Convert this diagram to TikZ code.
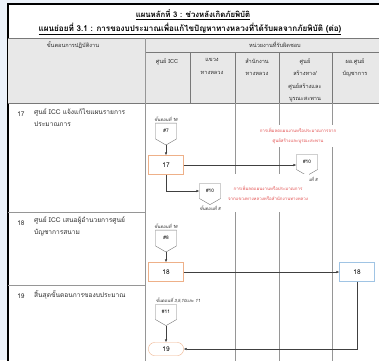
\documentclass[tikz,border=0pt]{standalone}
\usepackage{fontspec}
\setmainfont[Script=Thai]{Loma}
\usetikzlibrary{arrows.meta,positioning,shapes.symbols}
\definecolor{PageBlue}{RGB}{236,242,250}
\definecolor{HeadGray}{RGB}{232,232,232}
\definecolor{GridGray}{RGB}{120,120,120}
\definecolor{LaneGray}{RGB}{150,150,150}
\definecolor{BoxOrange}{RGB}{238,176,136}
\definecolor{BoxBlue}{RGB}{160,196,228}
\definecolor{NoteRed}{RGB}{226,78,78}
\definecolor{DarkText}{RGB}{45,45,45}
\tikzset{
  headtext/.style={font=\fontsize{5.6}{12.5}\selectfont, align=center, text=DarkText},
  rownum/.style={font=\fontsize{6.5}{8}\selectfont, text=DarkText, anchor=north},
  rowtext/.style={font=\fontsize{6.6}{12}\selectfont, text=DarkText, anchor=north west, align=left, inner sep=0pt},
  procbox/.style={draw=BoxOrange, fill=white, minimum width=35pt, minimum height=19pt, inner sep=1pt, font=\fontsize{6.5}{8}\selectfont},
  cmdbox/.style={procbox, draw=BoxBlue},
  endbox/.style={procbox, rounded corners=6pt, minimum height=13pt},
  pageref/.style={draw=GridGray, fill=white, shape=signal, signal to=south, signal pointer angle=120, minimum width=21pt, minimum height=18pt, inner sep=1pt, font=\fontsize{4.8}{5}\selectfont},
  steplabel/.style={font=\fontsize{4.3}{5}\selectfont\itshape, text=DarkText, inner sep=1pt},
  rednote/.style={font=\fontsize{4.4}{10}\selectfont, text=NoteRed, fill=white, align=center, inner xsep=1pt},
  flow/.style={draw=black!75, -{Latex[length=3pt,width=2.5pt]}},
  lane/.style={draw=LaneGray, line width=0.8pt}
}
\begin{document}
\begin{tikzpicture}[x=1pt,y=-1pt]
\clip (0,0) rectangle (379,360);
\fill[PageBlue] (0,0) rectangle (379,360);
\draw[line width=1.2pt, fill=white] (8,4) rectangle (420,380);

% header of the table
\fill[HeadGray] (8,38) rectangle (420,103);
\draw[GridGray] (8,38) -- (420,38) (145,52) -- (420,52) (8,103) -- (420,103);
\foreach \x in {190,235,279,332}
  \draw[GridGray] (\x,52) -- (\x,103);
\draw[lane] (145,38) -- (145,380);
\foreach \x in {235,279,332}
  \draw[lane] (\x,103) -- (\x,380);
\draw[lane] (8,212) -- (145,212) (8,285) -- (145,285);

% titles
\node[font=\fontsize{7.8}{9}\selectfont\bfseries] (title) at (193,15) {\underline{แผนหลักที่ 3 : ช่วงหลังเกิดภัยพิบัติ}};
\node[font=\fontsize{8.1}{9}\selectfont\bfseries] (subtitle) at (190,29) {\underline{แผนย่อยที่ 3.1 : การของบประมาณเพื่อแก้ไขปัญหาทางหลวงที่ได้รับผลจากภัยพิบัติ (ต่อ)}};

\node[headtext] (hdStep) at (73,45) {ขั้นตอนการปฏิบัติงาน};
\node[headtext] (hdUnit) at (275,45) {หน่วยงานที่รับผิดชอบ};
\node[headtext, anchor=north] (hdICC) at (167,55) {ศูนย์ ICC};
\node[headtext, anchor=north] (hdDistrict) at (212,55) {แขวง\\ทางหลวง};
\node[headtext, anchor=north] (hdOffice) at (257,55) {สำนักงาน\\ทางหลวง};
\node[headtext, anchor=north] (hdCenter) at (305,55) {ศูนย์\\สร้างทาง/\\ศูนย์สร้างและ\\บูรณะสะพาน};
\node[headtext, anchor=north] (hdCommand) at (355,55) {ผอ.ศูนย์\\บัญชาการ};

% steps
\node[rownum] (n17) at (21,108) {17};
\node[rowtext] (t17) at (34,108) {ศูนย์ ICC แจ้งแก้ไขแผนรายการ\\ประมาณการ};
\node[rownum] (n18) at (21,217) {18};
\node[rowtext] (t18) at (34,217) {ศูนย์ ICC เสนอผู้อำนวยการศูนย์\\บัญชาการสนาม};
\node[rownum] (n19) at (21,290) {19};
\node[rowtext] (t19) at (34,290) {สิ้นสุดขั้นตอนการของบประมาณ};

% flow
\node[pageref, label={[steplabel]above:ขั้นตอนที่ 16}] (c7) at (166,131) {\#7};
\node[procbox] (p17) at (166,165) {17};
\node[pageref, label={[steplabel]below:ขั้นตอนที่ 8}] (c10a) at (307,162) {\#10};
\node[pageref, label={[steplabel]below:ขั้นตอนที่ 8}] (c10b) at (210,191) {\#10};
\node[rednote] (note1) at (298,136) {การเพิ่มลดแผนงานหรือประมาณการจาก\\ศูนย์สร้างและบูรณะสะพาน};
\node[rednote, inner ysep=12pt] (note2) at (268,193) {การเพิ่มลดแผนงานหรือประมาณการ\\จากแขวงทางหลวงหรือสำนักงานทางหลวง};
\node[pageref, label={[steplabel]above:ขั้นตอนที่ 16}] (c8) at (166,238) {\#8};
\node[procbox] (p18) at (166,272) {18};
\node[cmdbox] (p18b) at (357,272) {18};
\node[pageref, label={[steplabel, xshift=12pt]above:ขั้นตอนที่ 3,5,10และ 11}] (c11) at (166,312) {\#11};
\node[endbox] (p19) at (166,349) {19};

\draw[flow] (c7.south) -- (p17.north);
\draw[flow] (p17.east) -- (p17.east -| c10a.west);
\draw[flow] (p17.south) |- (c10b.west);
\draw[flow] (c8.south) -- (p18.north);
\draw[flow] (p18.east) -- (p18b.west);
\draw[flow] (c11.south) -- (p19.north);
\draw[flow] (p18b.south) |- (p19.east);
\end{tikzpicture}
\end{document}
